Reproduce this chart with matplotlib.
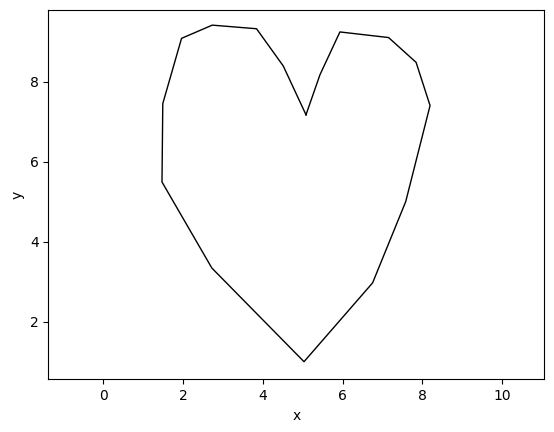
import matplotlib
matplotlib.use("Agg")
import matplotlib.pyplot as plt

x = [5.08, 5.43, 5.93, 7.15, 7.84, 8.19, 7.58, 6.75, 5.03, 2.72, 1.47, 1.49, 1.96, 2.73, 3.84, 4.51, 5.08]
y = [7.17, 8.17, 9.24, 9.10, 8.48, 7.40, 5.00, 2.97, 1.00, 3.34, 5.49, 7.45, 9.08, 9.41, 9.32, 8.39, 7.17]

fig = plt.figure(figsize=(5.54, 4.32), dpi=100)
ax = fig.add_axes([0.0872, 0.122, 0.895, 0.855])
ax.plot(x, y, color="black", linewidth=1)
ax.set_xlim(-1.38, 11.05)
ax.set_ylim(0.56, 9.79)
ax.set_xticks([0, 2, 4, 6, 8, 10])
ax.set_yticks([2, 4, 6, 8])
ax.set_xlabel("x")
ax.set_ylabel("y")
fig.savefig("out.png", dpi=100)
